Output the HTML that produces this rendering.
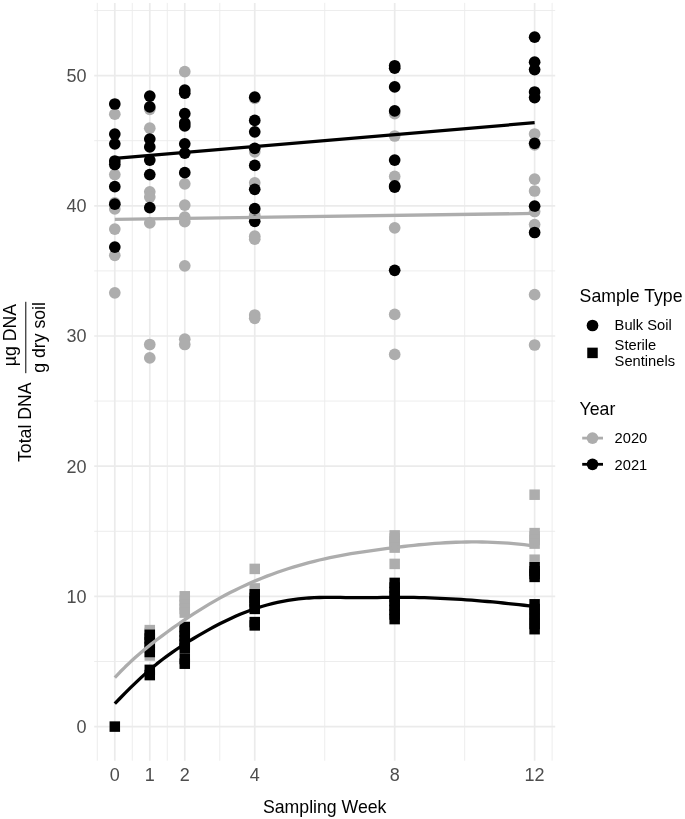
<!DOCTYPE html>
<html lang="en">
<head>
<meta charset="utf-8">
<title>Total DNA by Sampling Week</title>
<style>
html,body{margin:0;padding:0;background:#fff;}
body{width:685px;height:819px;overflow:hidden;}
svg{display:block;filter:grayscale(1);}
</style>
</head>
<body>
<svg width="685" height="819" viewBox="0 0 685 819" font-family="'Liberation Sans', Arial, Helvetica, sans-serif">
<rect width="685" height="819" fill="#fff"/>
<g stroke="#EBEBEB" fill="none">
<path d="M94.2,661.50H555.2" stroke-width="0.9"/>
<path d="M94.2,531.30H555.2" stroke-width="0.9"/>
<path d="M94.2,401.10H555.2" stroke-width="0.9"/>
<path d="M94.2,270.90H555.2" stroke-width="0.9"/>
<path d="M94.2,140.70H555.2" stroke-width="0.9"/>
<path d="M94.2,10.50H555.2" stroke-width="0.9"/>
<path d="M97.31,2.9V760.7" stroke-width="0.9"/>
<path d="M132.29,2.9V760.7" stroke-width="0.9"/>
<path d="M167.28,2.9V760.7" stroke-width="0.9"/>
<path d="M219.75,2.9V760.7" stroke-width="0.9"/>
<path d="M324.71,2.9V760.7" stroke-width="0.9"/>
<path d="M464.65,2.9V760.7" stroke-width="0.9"/>
<path d="M552.11,2.9V760.7" stroke-width="0.9"/>
<path d="M94.2,726.60H555.2" stroke-width="1.7"/>
<path d="M94.2,596.40H555.2" stroke-width="1.7"/>
<path d="M94.2,466.20H555.2" stroke-width="1.7"/>
<path d="M94.2,336.00H555.2" stroke-width="1.7"/>
<path d="M94.2,205.80H555.2" stroke-width="1.7"/>
<path d="M94.2,75.60H555.2" stroke-width="1.7"/>
<path d="M114.80,2.9V760.7" stroke-width="1.7"/>
<path d="M149.78,2.9V760.7" stroke-width="1.7"/>
<path d="M184.77,2.9V760.7" stroke-width="1.7"/>
<path d="M254.74,2.9V760.7" stroke-width="1.7"/>
<path d="M394.68,2.9V760.7" stroke-width="1.7"/>
<path d="M534.62,2.9V760.7" stroke-width="1.7"/>
</g>
<g>
<circle cx="114.80" cy="114.2" r="5.85" fill="#ADADAD"/>
<circle cx="114.80" cy="174.6" r="5.85" fill="#ADADAD"/>
<circle cx="114.80" cy="202.8" r="5.85" fill="#ADADAD"/>
<circle cx="114.80" cy="208.9" r="5.85" fill="#ADADAD"/>
<circle cx="114.80" cy="229.05" r="5.85" fill="#ADADAD"/>
<circle cx="114.80" cy="255.3" r="5.85" fill="#ADADAD"/>
<circle cx="114.80" cy="292.8" r="5.85" fill="#ADADAD"/>
<circle cx="149.78" cy="109.3" r="5.85" fill="#ADADAD"/>
<circle cx="149.78" cy="128.2" r="5.85" fill="#ADADAD"/>
<circle cx="149.78" cy="191.8" r="5.85" fill="#ADADAD"/>
<circle cx="149.78" cy="197.1" r="5.85" fill="#ADADAD"/>
<circle cx="149.78" cy="222.9" r="5.85" fill="#ADADAD"/>
<circle cx="149.78" cy="344.5" r="5.85" fill="#ADADAD"/>
<circle cx="149.78" cy="357.9" r="5.85" fill="#ADADAD"/>
<circle cx="184.77" cy="71.7" r="5.85" fill="#ADADAD"/>
<circle cx="184.77" cy="183.8" r="5.85" fill="#ADADAD"/>
<circle cx="184.77" cy="205.05" r="5.85" fill="#ADADAD"/>
<circle cx="184.77" cy="217.1" r="5.85" fill="#ADADAD"/>
<circle cx="184.77" cy="221.7" r="5.85" fill="#ADADAD"/>
<circle cx="184.77" cy="265.8" r="5.85" fill="#ADADAD"/>
<circle cx="184.77" cy="339.2" r="5.85" fill="#ADADAD"/>
<circle cx="184.77" cy="344.5" r="5.85" fill="#ADADAD"/>
<circle cx="254.74" cy="98.4" r="5.85" fill="#ADADAD"/>
<circle cx="254.74" cy="151.8" r="5.85" fill="#ADADAD"/>
<circle cx="254.74" cy="182.8" r="5.85" fill="#ADADAD"/>
<circle cx="254.74" cy="215.2" r="5.85" fill="#ADADAD"/>
<circle cx="254.74" cy="236.2" r="5.85" fill="#ADADAD"/>
<circle cx="254.74" cy="239.2" r="5.85" fill="#ADADAD"/>
<circle cx="254.74" cy="315.0" r="5.85" fill="#ADADAD"/>
<circle cx="254.74" cy="318.3" r="5.85" fill="#ADADAD"/>
<circle cx="394.68" cy="113.6" r="5.85" fill="#ADADAD"/>
<circle cx="394.68" cy="136.0" r="5.85" fill="#ADADAD"/>
<circle cx="394.68" cy="176.4" r="5.85" fill="#ADADAD"/>
<circle cx="394.68" cy="227.8" r="5.85" fill="#ADADAD"/>
<circle cx="394.68" cy="314.4" r="5.85" fill="#ADADAD"/>
<circle cx="394.68" cy="354.4" r="5.85" fill="#ADADAD"/>
<circle cx="534.62" cy="134.0" r="5.85" fill="#ADADAD"/>
<circle cx="534.62" cy="144.8" r="5.85" fill="#ADADAD"/>
<circle cx="534.62" cy="179.05" r="5.85" fill="#ADADAD"/>
<circle cx="534.62" cy="191.0" r="5.85" fill="#ADADAD"/>
<circle cx="534.62" cy="211.5" r="5.85" fill="#ADADAD"/>
<circle cx="534.62" cy="224.6" r="5.85" fill="#ADADAD"/>
<circle cx="534.62" cy="294.7" r="5.85" fill="#ADADAD"/>
<circle cx="534.62" cy="345.0" r="5.85" fill="#ADADAD"/>
<rect x="144.53" y="624.85" width="10.5" height="10.5" fill="#ADADAD"/>
<rect x="144.53" y="627.75" width="10.5" height="10.5" fill="#ADADAD"/>
<rect x="144.53" y="650.25" width="10.5" height="10.5" fill="#ADADAD"/>
<rect x="179.52" y="591.05" width="10.5" height="10.5" fill="#ADADAD"/>
<rect x="179.52" y="595.25" width="10.5" height="10.5" fill="#ADADAD"/>
<rect x="179.52" y="599.75" width="10.5" height="10.5" fill="#ADADAD"/>
<rect x="179.52" y="603.75" width="10.5" height="10.5" fill="#ADADAD"/>
<rect x="179.52" y="607.35" width="10.5" height="10.5" fill="#ADADAD"/>
<rect x="249.49" y="563.65" width="10.5" height="10.5" fill="#ADADAD"/>
<rect x="249.49" y="583.15" width="10.5" height="10.5" fill="#ADADAD"/>
<rect x="389.43" y="530.15" width="10.5" height="10.5" fill="#ADADAD"/>
<rect x="389.43" y="533.25" width="10.5" height="10.5" fill="#ADADAD"/>
<rect x="389.43" y="536.25" width="10.5" height="10.5" fill="#ADADAD"/>
<rect x="389.43" y="539.25" width="10.5" height="10.5" fill="#ADADAD"/>
<rect x="389.43" y="542.35" width="10.5" height="10.5" fill="#ADADAD"/>
<rect x="389.43" y="558.65" width="10.5" height="10.5" fill="#ADADAD"/>
<rect x="529.37" y="489.45" width="10.5" height="10.5" fill="#ADADAD"/>
<rect x="529.37" y="527.85" width="10.5" height="10.5" fill="#ADADAD"/>
<rect x="529.37" y="531.25" width="10.5" height="10.5" fill="#ADADAD"/>
<rect x="529.37" y="534.75" width="10.5" height="10.5" fill="#ADADAD"/>
<rect x="529.37" y="538.35" width="10.5" height="10.5" fill="#ADADAD"/>
<rect x="529.37" y="554.45" width="10.5" height="10.5" fill="#ADADAD"/>
<circle cx="114.80" cy="104.0" r="5.85" fill="#000000"/>
<circle cx="114.80" cy="134.1" r="5.85" fill="#000000"/>
<circle cx="114.80" cy="143.8" r="5.85" fill="#000000"/>
<circle cx="114.80" cy="161.0" r="5.85" fill="#000000"/>
<circle cx="114.80" cy="164.5" r="5.85" fill="#000000"/>
<circle cx="114.80" cy="186.7" r="5.85" fill="#000000"/>
<circle cx="114.80" cy="204.2" r="5.85" fill="#000000"/>
<circle cx="114.80" cy="247.1" r="5.85" fill="#000000"/>
<circle cx="149.78" cy="96.1" r="5.85" fill="#000000"/>
<circle cx="149.78" cy="106.9" r="5.85" fill="#000000"/>
<circle cx="149.78" cy="139.05" r="5.85" fill="#000000"/>
<circle cx="149.78" cy="146.9" r="5.85" fill="#000000"/>
<circle cx="149.78" cy="160.1" r="5.85" fill="#000000"/>
<circle cx="149.78" cy="174.6" r="5.85" fill="#000000"/>
<circle cx="149.78" cy="207.7" r="5.85" fill="#000000"/>
<circle cx="184.77" cy="90.1" r="5.85" fill="#000000"/>
<circle cx="184.77" cy="93.2" r="5.85" fill="#000000"/>
<circle cx="184.77" cy="113.7" r="5.85" fill="#000000"/>
<circle cx="184.77" cy="122.9" r="5.85" fill="#000000"/>
<circle cx="184.77" cy="125.9" r="5.85" fill="#000000"/>
<circle cx="184.77" cy="143.8" r="5.85" fill="#000000"/>
<circle cx="184.77" cy="153.1" r="5.85" fill="#000000"/>
<circle cx="184.77" cy="172.7" r="5.85" fill="#000000"/>
<circle cx="254.74" cy="97.15" r="5.85" fill="#000000"/>
<circle cx="254.74" cy="120.45" r="5.85" fill="#000000"/>
<circle cx="254.74" cy="131.85" r="5.85" fill="#000000"/>
<circle cx="254.74" cy="148.3" r="5.85" fill="#000000"/>
<circle cx="254.74" cy="165.4" r="5.85" fill="#000000"/>
<circle cx="254.74" cy="189.3" r="5.85" fill="#000000"/>
<circle cx="254.74" cy="208.7" r="5.85" fill="#000000"/>
<circle cx="254.74" cy="221.3" r="5.85" fill="#000000"/>
<circle cx="394.68" cy="65.75" r="5.85" fill="#000000"/>
<circle cx="394.68" cy="68.2" r="5.85" fill="#000000"/>
<circle cx="394.68" cy="86.95" r="5.85" fill="#000000"/>
<circle cx="394.68" cy="110.95" r="5.85" fill="#000000"/>
<circle cx="394.68" cy="160.1" r="5.85" fill="#000000"/>
<circle cx="394.68" cy="185.9" r="5.85" fill="#000000"/>
<circle cx="394.68" cy="187.1" r="5.85" fill="#000000"/>
<circle cx="394.68" cy="270.3" r="5.85" fill="#000000"/>
<circle cx="534.62" cy="37.15" r="5.85" fill="#000000"/>
<circle cx="534.62" cy="62.2" r="5.85" fill="#000000"/>
<circle cx="534.62" cy="69.6" r="5.85" fill="#000000"/>
<circle cx="534.62" cy="92.0" r="5.85" fill="#000000"/>
<circle cx="534.62" cy="97.6" r="5.85" fill="#000000"/>
<circle cx="534.62" cy="143.3" r="5.85" fill="#000000"/>
<circle cx="534.62" cy="206.2" r="5.85" fill="#000000"/>
<circle cx="534.62" cy="232.5" r="5.85" fill="#000000"/>
<rect x="109.55" y="721.35" width="10.5" height="10.5" fill="#000000"/>
<rect x="144.53" y="629.55" width="10.5" height="10.5" fill="#000000"/>
<rect x="144.53" y="633.25" width="10.5" height="10.5" fill="#000000"/>
<rect x="144.53" y="637.25" width="10.5" height="10.5" fill="#000000"/>
<rect x="144.53" y="641.75" width="10.5" height="10.5" fill="#000000"/>
<rect x="144.53" y="646.75" width="10.5" height="10.5" fill="#000000"/>
<rect x="144.53" y="664.60" width="10.5" height="10.5" fill="#000000"/>
<rect x="144.53" y="669.85" width="10.5" height="10.5" fill="#000000"/>
<rect x="179.52" y="621.75" width="10.5" height="10.5" fill="#000000"/>
<rect x="179.52" y="626.25" width="10.5" height="10.5" fill="#000000"/>
<rect x="179.52" y="630.75" width="10.5" height="10.5" fill="#000000"/>
<rect x="179.52" y="635.25" width="10.5" height="10.5" fill="#000000"/>
<rect x="179.52" y="639.25" width="10.5" height="10.5" fill="#000000"/>
<rect x="179.52" y="643.25" width="10.5" height="10.5" fill="#000000"/>
<rect x="179.52" y="653.75" width="10.5" height="10.5" fill="#000000"/>
<rect x="179.52" y="658.45" width="10.5" height="10.5" fill="#000000"/>
<rect x="249.49" y="589.05" width="10.5" height="10.5" fill="#000000"/>
<rect x="249.49" y="592.75" width="10.5" height="10.5" fill="#000000"/>
<rect x="249.49" y="596.25" width="10.5" height="10.5" fill="#000000"/>
<rect x="249.49" y="599.75" width="10.5" height="10.5" fill="#000000"/>
<rect x="249.49" y="603.65" width="10.5" height="10.5" fill="#000000"/>
<rect x="249.49" y="616.85" width="10.5" height="10.5" fill="#000000"/>
<rect x="249.49" y="620.15" width="10.5" height="10.5" fill="#000000"/>
<rect x="389.43" y="577.65" width="10.5" height="10.5" fill="#000000"/>
<rect x="389.43" y="582.25" width="10.5" height="10.5" fill="#000000"/>
<rect x="389.43" y="586.75" width="10.5" height="10.5" fill="#000000"/>
<rect x="389.43" y="591.25" width="10.5" height="10.5" fill="#000000"/>
<rect x="389.43" y="595.75" width="10.5" height="10.5" fill="#000000"/>
<rect x="389.43" y="600.25" width="10.5" height="10.5" fill="#000000"/>
<rect x="389.43" y="604.75" width="10.5" height="10.5" fill="#000000"/>
<rect x="389.43" y="609.25" width="10.5" height="10.5" fill="#000000"/>
<rect x="389.43" y="613.85" width="10.5" height="10.5" fill="#000000"/>
<rect x="529.37" y="562.00" width="10.5" height="10.5" fill="#000000"/>
<rect x="529.37" y="565.75" width="10.5" height="10.5" fill="#000000"/>
<rect x="529.37" y="568.75" width="10.5" height="10.5" fill="#000000"/>
<rect x="529.37" y="571.65" width="10.5" height="10.5" fill="#000000"/>
<rect x="529.37" y="599.05" width="10.5" height="10.5" fill="#000000"/>
<rect x="529.37" y="603.75" width="10.5" height="10.5" fill="#000000"/>
<rect x="529.37" y="608.75" width="10.5" height="10.5" fill="#000000"/>
<rect x="529.37" y="613.75" width="10.5" height="10.5" fill="#000000"/>
<rect x="529.37" y="618.75" width="10.5" height="10.5" fill="#000000"/>
<rect x="529.37" y="623.95" width="10.5" height="10.5" fill="#000000"/>
</g>
<g fill="none" stroke-width="3.3" stroke-linecap="butt" stroke-linejoin="round">
<path d="M114.80,219.4L534.62,213.4" stroke="#ADADAD"/>
<path d="M114.80,677.55 L120.05,672.04 L125.30,666.81 L130.54,661.82 L135.79,657.05 L141.04,652.49 L146.29,648.11 L151.53,643.89 L156.78,639.81 L162.03,635.85 L167.28,631.99 L172.53,628.20 L177.77,624.50 L183.02,620.87 L188.27,617.34 L193.52,613.89 L198.76,610.54 L204.01,607.29 L209.26,604.14 L214.51,601.09 L219.75,598.14 L225.00,595.30 L230.25,592.55 L235.50,589.91 L240.75,587.37 L245.99,584.93 L251.24,582.60 L256.49,580.36 L261.74,578.21 L266.98,576.16 L272.23,574.20 L277.48,572.32 L282.73,570.52 L287.98,568.80 L293.22,567.16 L298.47,565.58 L303.72,564.08 L308.97,562.65 L314.21,561.29 L319.46,560.01 L324.71,558.79 L329.96,557.65 L335.21,556.58 L340.45,555.57 L345.70,554.62 L350.95,553.72 L356.20,552.86 L361.44,552.06 L366.69,551.28 L371.94,550.54 L377.19,549.83 L382.44,549.14 L387.68,548.47 L392.93,547.80 L398.18,547.15 L403.43,546.50 L408.67,545.88 L413.92,545.30 L419.17,544.76 L424.42,544.27 L429.67,543.82 L434.91,543.41 L440.16,543.05 L445.41,542.74 L450.66,542.48 L455.90,542.27 L461.15,542.11 L466.40,542.00 L471.65,541.94 L476.89,541.95 L482.14,542.01 L487.39,542.12 L492.64,542.30 L497.89,542.53 L503.13,542.83 L508.38,543.19 L513.63,543.62 L518.88,544.11 L524.12,544.66 L529.37,545.29 L534.62,545.98" stroke="#ADADAD"/>
<path d="M114.80,158.4L534.62,122.7" stroke="#000000"/>
<path d="M114.80,703.71 L120.05,698.26 L125.30,692.91 L130.54,687.68 L135.79,682.58 L141.04,677.64 L146.29,672.87 L151.53,668.28 L156.78,663.91 L162.03,659.75 L167.28,655.82 L172.53,652.08 L177.77,648.50 L183.02,645.06 L188.27,641.73 L193.52,638.49 L198.76,635.36 L204.01,632.31 L209.26,629.37 L214.51,626.53 L219.75,623.80 L225.00,621.18 L230.25,618.68 L235.50,616.31 L240.75,614.06 L245.99,611.96 L251.24,610.00 L256.49,608.19 L261.74,606.53 L266.98,605.02 L272.23,603.66 L277.48,602.44 L282.73,601.37 L287.98,600.43 L293.22,599.62 L298.47,598.95 L303.72,598.40 L308.97,597.98 L314.21,597.69 L319.46,597.50 L324.71,597.39 L329.96,597.37 L335.21,597.39 L340.45,597.45 L345.70,597.53 L350.95,597.61 L356.20,597.67 L361.44,597.69 L366.69,597.67 L371.94,597.62 L377.19,597.55 L382.44,597.47 L387.68,597.40 L392.93,597.35 L398.18,597.32 L403.43,597.33 L408.67,597.38 L413.92,597.45 L419.17,597.56 L424.42,597.69 L429.67,597.86 L434.91,598.06 L440.16,598.28 L445.41,598.54 L450.66,598.82 L455.90,599.13 L461.15,599.46 L466.40,599.82 L471.65,600.20 L476.89,600.61 L482.14,601.04 L487.39,601.50 L492.64,601.97 L497.89,602.47 L503.13,602.99 L508.38,603.52 L513.63,604.08 L518.88,604.65 L524.12,605.25 L529.37,605.86 L534.62,606.48" stroke="#000000"/>
</g>
<g fill="#4D4D4D">
<text x="86.60" y="732.90" font-size="18.0px" text-anchor="end">0</text>
<text x="86.60" y="602.70" font-size="18.0px" text-anchor="end">10</text>
<text x="86.60" y="472.50" font-size="18.0px" text-anchor="end">20</text>
<text x="86.60" y="342.30" font-size="18.0px" text-anchor="end">30</text>
<text x="86.60" y="212.10" font-size="18.0px" text-anchor="end">40</text>
<text x="86.60" y="81.90" font-size="18.0px" text-anchor="end">50</text>
<text x="114.80" y="781.10" font-size="18.0px" text-anchor="middle">0</text>
<text x="149.78" y="781.10" font-size="18.0px" text-anchor="middle">1</text>
<text x="184.77" y="781.10" font-size="18.0px" text-anchor="middle">2</text>
<text x="254.74" y="781.10" font-size="18.0px" text-anchor="middle">4</text>
<text x="394.68" y="781.10" font-size="18.0px" text-anchor="middle">8</text>
<text x="534.62" y="781.10" font-size="18.0px" text-anchor="middle">12</text>
</g>
<g fill="#000">
<text x="324.70" y="812.90" font-size="17.7px" text-anchor="middle">Sampling Week</text>
<text x="31.00" y="462.00" font-size="17.7px" transform="rotate(-90 31.00 462.00)">Total DNA</text>
<text x="15.90" y="335.00" font-size="17.7px" text-anchor="middle" transform="rotate(-90 15.90 335.00)">µg DNA</text>
<text x="44.80" y="337.40" font-size="17.7px" text-anchor="middle" transform="rotate(-90 44.80 337.40)">g dry soil</text>
<path d="M25.8,373.2V301.8" stroke="#000" stroke-width="1.0" fill="none"/>
</g>
<g fill="#000">
<text x="579.60" y="301.80" font-size="17.7px">Sample Type</text>
<circle cx="592.5" cy="325.5" r="5.85"/>
<rect x="587.25" y="347.65" width="10.5" height="10.5"/>
<text x="614.60" y="330.40" font-size="14.7px">Bulk Soil</text>
<text x="614.60" y="350.00" font-size="14.7px">Sterile</text>
<text x="614.60" y="366.10" font-size="14.7px">Sentinels</text>
<text x="579.60" y="414.90" font-size="17.7px">Year</text>
<path d="M582.2,438.1H603" stroke="#ADADAD" stroke-width="2.8"/>
<circle cx="592.5" cy="438.1" r="5.85" fill="#ADADAD"/>
<path d="M582.2,464.3H603" stroke="#000000" stroke-width="2.8"/>
<circle cx="592.5" cy="464.3" r="5.85" fill="#000000"/>
<text x="614.60" y="443.40" font-size="14.7px">2020</text>
<text x="614.60" y="469.60" font-size="14.7px">2021</text>
</g>
</svg>
</body>
</html>
